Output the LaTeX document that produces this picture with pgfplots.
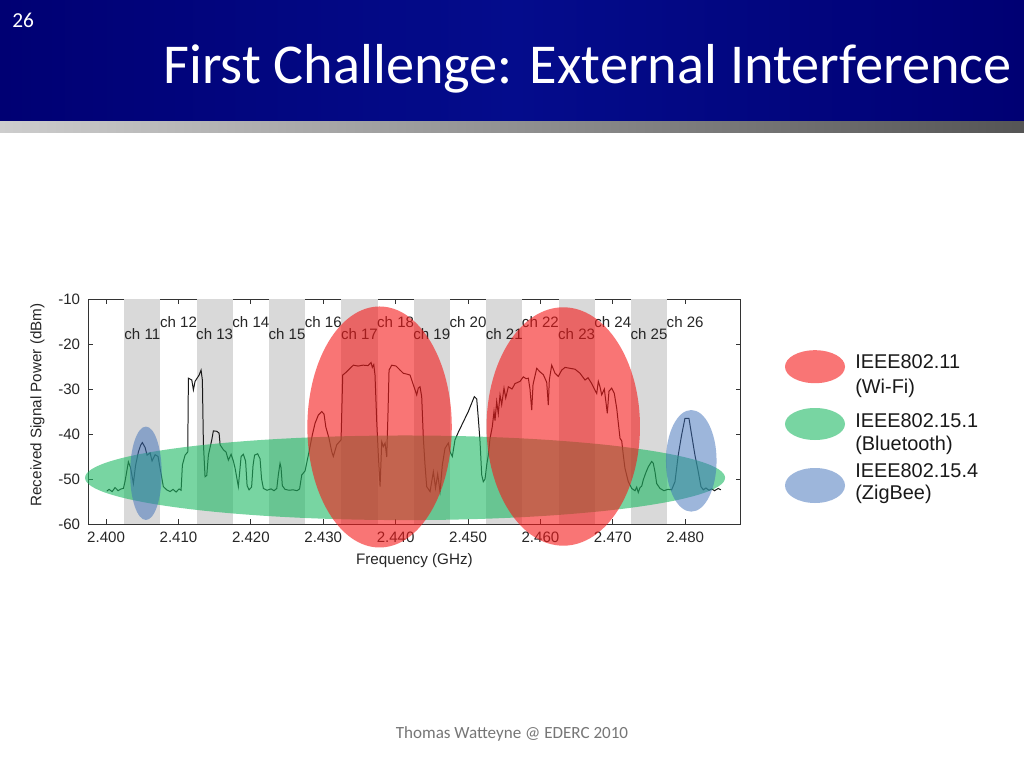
\documentclass[border=0pt]{standalone}
\usepackage{fontspec}
\setmainfont{Liberation Sans}
\newfontfamily\calibri{Carlito}
\usepackage{pgfplots}
\pgfplotsset{compat=1.18}
\usepackage{pgfplotstable}
\definecolor{hdedge}{RGB}{0,0,115}
\definecolor{hdmid}{RGB}{4,12,140}
\definecolor{barl}{RGB}{205,205,205}
\definecolor{barr}{RGB}{85,85,85}
\definecolor{bandgray}{RGB}{217,217,217}
\definecolor{wifi}{RGB}{245,25,25}
\definecolor{bt}{RGB}{30,185,100}
\definecolor{zb}{RGB}{60,110,185}
\definecolor{foot}{RGB}{118,118,118}

\pgfplotstableread{
f p
2.40010 -52.7
2.40041 -52.3
2.40083 -52.8
2.40124 -51.9
2.40166 -52.6
2.40207 -52.2
2.40239 -52.1
2.40262 -50.5
2.40308 -46.2
2.40338 -47.5
2.40377 -51.0
2.40407 -47.0
2.40446 -44.0
2.40477 -42.5
2.40501 -41.9
2.40539 -43.0
2.40566 -44.7
2.40608 -44.2
2.40635 -46.0
2.40677 -44.6
2.40718 -45.0
2.40746 -47.6
2.40791 -51.7
2.40837 -52.4
2.40884 -52.8
2.40925 -52.3
2.40967 -52.9
2.41008 -52.2
2.41036 -52.5
2.41054 -46.9
2.41091 -44.7
2.41128 -44.0
2.41137 -27.6
2.41184 -28.0
2.41206 -30.2
2.41229 -28.3
2.41285 -26.9
2.41312 -25.8
2.41330 -28.0
2.41344 -42.0
2.41367 -49.5
2.41391 -49.2
2.41413 -44.7
2.41460 -41.3
2.41482 -39.3
2.41529 -39.4
2.41561 -39.8
2.41575 -42.4
2.41620 -43.5
2.41657 -44.0
2.41689 -45.8
2.41727 -44.5
2.41758 -46.0
2.41782 -47.6
2.41827 -51.7
2.41865 -45.0
2.41896 -44.5
2.41927 -46.0
2.41948 -51.5
2.41975 -52.4
2.42010 -51.8
2.42030 -47.0
2.42051 -44.7
2.42093 -44.4
2.42127 -45.5
2.42148 -50.0
2.42173 -52.1
2.42224 -52.5
2.42279 -52.2
2.42320 -52.6
2.42358 -52.1
2.42380 -49.0
2.42403 -46.5
2.42417 -47.5
2.42435 -51.5
2.42472 -52.3
2.42528 -52.5
2.42583 -52.4
2.42638 -52.6
2.42673 -52.2
2.42703 -49.1
2.42749 -48.2
2.42794 -44.7
2.42849 -40.2
2.42887 -37.6
2.42932 -35.8
2.42979 -35.0
2.43011 -35.6
2.43035 -38.4
2.43080 -41.0
2.43117 -43.9
2.43139 -45.0
2.43186 -42.4
2.43246 -41.3
2.43269 -26.9
2.43315 -26.3
2.43370 -25.4
2.43416 -24.7
2.43481 -24.9
2.43550 -24.7
2.43619 -24.8
2.43660 -24.1
2.43678 -25.2
2.43698 -24.6
2.43715 -26.9
2.43739 -37.3
2.43761 -44.7
2.43785 -51.7
2.43808 -41.7
2.43830 -42.8
2.43854 -42.0
2.43877 -45.1
2.43895 -35.0
2.43909 -25.8
2.43946 -24.7
2.44006 -24.9
2.44061 -25.8
2.44106 -26.5
2.44157 -26.7
2.44199 -26.9
2.44245 -29.1
2.44291 -31.3
2.44313 -29.8
2.44337 -29.5
2.44360 -31.7
2.44383 -41.0
2.44406 -46.9
2.44429 -51.7
2.44475 -52.8
2.44521 -48.4
2.44551 -52.0
2.44581 -48.9
2.44613 -52.8
2.44645 -46.9
2.44682 -43.2
2.44728 -42.0
2.44751 -43.9
2.44783 -45.0
2.44820 -41.3
2.44866 -39.6
2.44935 -37.3
2.45004 -35.0
2.45059 -32.8
2.45087 -31.7
2.45120 -32.2
2.45142 -36.5
2.45166 -41.7
2.45189 -49.1
2.45211 -50.6
2.45235 -50.0
2.45258 -46.9
2.45280 -44.7
2.45304 -41.0
2.45335 -38.4
2.45359 -35.0
2.45373 -37.0
2.45396 -32.8
2.45418 -35.5
2.45442 -31.3
2.45465 -33.5
2.45497 -29.8
2.45521 -32.0
2.45557 -29.5
2.45608 -30.0
2.45649 -28.8
2.45718 -28.3
2.45764 -27.3
2.45801 -27.7
2.45833 -27.6
2.45856 -30.0
2.45880 -34.7
2.45898 -29.0
2.45949 -25.4
2.45994 -26.2
2.46040 -26.8
2.46087 -28.5
2.46109 -33.6
2.46123 -28.0
2.46156 -24.7
2.46202 -26.5
2.46247 -27.2
2.46294 -25.8
2.46340 -25.2
2.46409 -25.4
2.46478 -25.6
2.46547 -26.5
2.46616 -28.0
2.46658 -27.5
2.46709 -28.8
2.46754 -30.3
2.46778 -31.0
2.46800 -28.3
2.46823 -29.5
2.46847 -31.3
2.46883 -30.0
2.46902 -32.5
2.46924 -35.4
2.46947 -30.5
2.46985 -29.8
2.47021 -31.0
2.47054 -34.3
2.47076 -37.5
2.47100 -41.0
2.47123 -41.5
2.47145 -44.7
2.47168 -47.6
2.47214 -50.6
2.47261 -52.1
2.47307 -52.6
2.47330 -51.8
2.47352 -53.0
2.47376 -51.9
2.47399 -51.6
2.47421 -50.2
2.47454 -48.7
2.47490 -47.3
2.47537 -46.1
2.47559 -46.5
2.47583 -48.4
2.47606 -51.0
2.47652 -52.1
2.47707 -52.6
2.47762 -52.3
2.47813 -52.4
2.47859 -50.6
2.47904 -44.7
2.47951 -40.2
2.47997 -36.5
2.48052 -36.5
2.48089 -40.2
2.48135 -44.7
2.48181 -48.4
2.48218 -51.7
2.48250 -52.4
2.48287 -52.0
2.48329 -52.5
2.48366 -52.2
2.48405 -52.6
2.48457 -52.1
2.48494 -52.4
}\signal

\begin{document}
\begin{tikzpicture}[x=0.703125pt,y=-0.703125pt]
\useasboundingbox (0,0) rectangle (1024,768);
\fill[white] (0,0) rectangle (1024,768);
% header
\shade[left color=hdedge, right color=hdedge, middle color=hdmid] (0,0) rectangle (1024,122);
\shade[left color=barl, right color=barr] (0,122) rectangle (1024,133);
\node[white, font=\calibri\fontsize{15}{17}\selectfont, anchor=base west, inner sep=0pt] at (12,28) {26};
\node[white, font=\calibri\fontsize{39.6}{48}\selectfont, anchor=base west, inner sep=0pt] at (163,84) {First Challenge: External Interference};

\begin{axis}[
  at={(61.875pt,-368.4375pt)}, anchor=south west,
  scale only axis, width=458.93pt, height=158.2pt,
  xmin=2.3975, xmax=2.48767, ymin=-60, ymax=-10,
  xtick={2.40,2.41,2.42,2.43,2.44,2.45,2.46,2.47,2.48},
  xticklabels={2.400,2.410,2.420,2.430,2.440,2.450,2.460,2.470,2.480},
  ytick={-60,-50,-40,-30,-20,-10},
  yticklabels={-60,-50,-40,-30,-20,-10},
  tick align=inside, major tick length=3.5pt,
  axis line style={black!80, line width=0.6pt},
  tick style={black!80, line width=0.6pt},
  ticklabel style={font=\fontsize{10.6}{12}\selectfont, text=black!85},
  xticklabel style={yshift=-2pt},
  yticklabel style={xshift=-2pt},
  xlabel={Frequency (GHz)}, ylabel={Received Signal Power (dBm)},
  label style={font=\fontsize{10.7}{12}\selectfont, text=black!85},
  xlabel style={at={(axis description cs:0.5,-0.1644)}, anchor=center},
  ylabel style={at={(axis description cs:-0.0774,0.529)}, anchor=center},
  clip=false,
]
\fill[bandgray] (axis cs:2.4025,-60) rectangle (axis cs:2.4075,-10);
\fill[bandgray] (axis cs:2.4125,-60) rectangle (axis cs:2.4175,-10);
\fill[bandgray] (axis cs:2.4225,-60) rectangle (axis cs:2.4275,-10);
\fill[bandgray] (axis cs:2.4325,-60) rectangle (axis cs:2.4375,-10);
\fill[bandgray] (axis cs:2.4425,-60) rectangle (axis cs:2.4475,-10);
\fill[bandgray] (axis cs:2.4525,-60) rectangle (axis cs:2.4575,-10);
\fill[bandgray] (axis cs:2.4625,-60) rectangle (axis cs:2.4675,-10);
\fill[bandgray] (axis cs:2.4725,-60) rectangle (axis cs:2.4775,-10);

\addplot[black!90, line width=0.7pt, mark=none] table[x=f,y=p] {\signal};

\pgfplotsinvokeforeach{11,13,15,17,19,21,23,25}{
  \node[anchor=base, font=\fontsize{10.6}{12}\selectfont, text=black!85, inner sep=0pt]
    at (axis cs:{2.405+0.005*(#1-11)},-18.96) {ch #1};
}
\pgfplotsinvokeforeach{12,14,16,18,20,22,24,26}{
  \node[anchor=base, font=\fontsize{10.6}{12}\selectfont, text=black!85, inner sep=0pt]
    at (axis cs:{2.405+0.005*(#1-11)},-16.37) {ch #1};
}
\coordinate (bt) at (axis cs:2.44130,-49.73);
\coordinate (w1) at (axis cs:2.43778,-38.44);
\coordinate (w2) at (axis cs:2.46316,-38.33);
\coordinate (z1) at (axis cs:2.40550,-48.73);
\coordinate (z2) at (axis cs:2.48084,-45.96);
\end{axis}

\fill[bt, fill opacity=0.6] (bt) ellipse [x radius=320, y radius=42.3];
\fill[zb, fill opacity=0.5] (z1) ellipse [x radius=15.8, y radius=46.7];
\fill[zb, fill opacity=0.5] (z2) ellipse [x radius=25.3, y radius=50.8];
\fill[wifi, fill opacity=0.6] (w1) ellipse [x radius=72.2, y radius=120.5];
\fill[wifi, fill opacity=0.6] (w2) ellipse [x radius=76.7, y radius=119.2];

% legend
\fill[wifi, fill opacity=0.6] (815,366.7) ellipse [x radius=30, y radius=16.5];
\fill[bt, fill opacity=0.6] (815,424) ellipse [x radius=30, y radius=16];
\fill[zb, fill opacity=0.5] (815,485.5) ellipse [x radius=30, y radius=17.5];
\begin{scope}[every node/.style={anchor=base west, inner sep=0pt, font=\fontsize{14}{16}\selectfont, text=black!90}]
\node at (855,368) {IEEE802.11};
\node at (855,393.5) {(Wi-Fi)};
\node at (855,427) {IEEE802.15.1};
\node at (855,450.5) {(Bluetooth)};
\node at (855,477) {IEEE802.15.4};
\node at (855,499.5) {(ZigBee)};
\end{scope}

\node[foot, font=\calibri\fontsize{12}{14}\selectfont, anchor=base, inner sep=0pt] at (512,738) {Thomas Watteyne @ EDERC 2010};
\end{tikzpicture}
\end{document}
